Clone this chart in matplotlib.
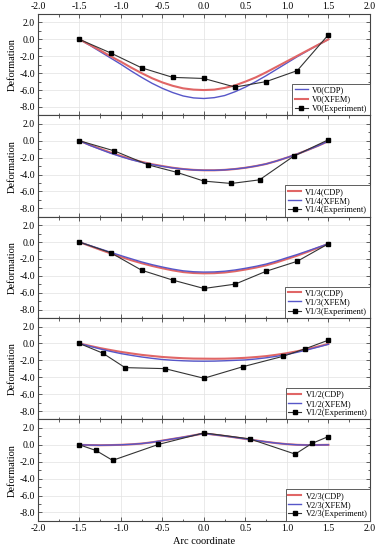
import numpy as np
import matplotlib
matplotlib.use('Agg')
import matplotlib.pyplot as plt
from matplotlib.ticker import AutoMinorLocator, FormatStrFormatter

plt.rcParams['font.family'] = ['Liberation Serif', 'DejaVu Serif']
plt.rcParams['axes.unicode_minus'] = False

# sample positions of the numerical curves (read every 0.125)
x_curve = [-1.5, -1.375, -1.25, -1.125, -1.0, -0.875, -0.75, -0.625, -0.5, -0.375, -0.25, -0.125,
           0.0, 0.125, 0.25, 0.375, 0.5, 0.625, 0.75, 0.875, 1.0, 1.125, 1.25, 1.375, 1.5]

# V0
v0_cdp = [0, -0.7, -1.45, -2.2, -2.95, -3.75, -4.5, -5.2, -5.8, -6.3, -6.7, -6.93,
          -7.0, -6.9, -6.65, -6.2, -5.65, -5.0, -4.3, -3.55, -2.8, -2.05, -1.35, -0.65, 0]
v0_xfem = [0, -0.65, -1.3, -2.0, -2.65, -3.35, -4.0, -4.6, -5.1, -5.5, -5.8, -5.95,
           -6.0, -5.95, -5.75, -5.45, -5.0, -4.5, -3.9, -3.25, -2.6, -1.95, -1.3, -0.65, 0]
v0_exp_x = [-1.5, -1.125, -0.75, -0.375, 0.0, 0.375, 0.75, 1.125, 1.5]
v0_exp = [0, -1.6, -3.37, -4.5, -4.63, -5.65, -5.0, -3.7, 0.55]

# V1/4
v14_cdp = [0, -0.5, -0.95, -1.4, -1.8, -2.18, -2.5, -2.78, -3.0, -3.2, -3.35, -3.45,
           -3.5, -3.5, -3.45, -3.35, -3.2, -3.0, -2.75, -2.4, -2.0, -1.58, -1.1, -0.6, -0.05]
v14_xfem = [0, -0.55, -1.02, -1.48, -1.88, -2.25, -2.56, -2.82, -3.03, -3.22, -3.36, -3.46,
            -3.5, -3.5, -3.45, -3.35, -3.2, -3.0, -2.75, -2.4, -2.0, -1.58, -1.1, -0.6, -0.05]
v14_exp_x = [-1.5, -1.08, -0.67, -0.33, 0.0, 0.33, 0.67, 1.08, 1.5]
v14_exp = [0, -1.2, -2.86, -3.73, -4.78, -5.06, -4.63, -1.84, 0.12]

# V1/3
v13_cdp = [0, -0.45, -0.9, -1.33, -1.75, -2.15, -2.5, -2.82, -3.1, -3.35, -3.55, -3.66,
           -3.7, -3.68, -3.6, -3.45, -3.25, -3.02, -2.75, -2.4, -2.0, -1.6, -1.15, -0.68, -0.2]
v13_xfem = [0, -0.4, -0.8, -1.2, -1.6, -1.98, -2.35, -2.67, -2.95, -3.2, -3.4, -3.51,
            -3.55, -3.53, -3.45, -3.3, -3.1, -2.87, -2.6, -2.25, -1.85, -1.47, -1.05, -0.62, -0.2]
v13_exp_x = [-1.5, -1.125, -0.75, -0.375, 0.0, 0.375, 0.75, 1.125, 1.5]
v13_exp = [0, -1.25, -3.33, -4.5, -5.49, -4.98, -3.45, -2.27, -0.2]

# V1/2
v12_cdp = [0, -0.28, -0.55, -0.78, -1.0, -1.18, -1.35, -1.48, -1.6, -1.68, -1.75, -1.79,
           -1.8, -1.81, -1.8, -1.76, -1.7, -1.61, -1.5, -1.34, -1.15, -0.92, -0.65, -0.36, -0.05]
v12_xfem = [0, -0.33, -0.65, -0.94, -1.2, -1.41, -1.6, -1.76, -1.9, -1.99, -2.05, -2.09,
            -2.1, -2.09, -2.05, -2.0, -1.95, -1.84, -1.7, -1.52, -1.3, -1.04, -0.75, -0.43, -0.1]
v12_exp_x = [-1.5, -1.22, -0.95, -0.47, 0.0, 0.47, 0.95, 1.22, 1.5]
v12_exp = [0, -1.14, -2.86, -2.98, -4.12, -2.75, -1.53, -0.63, 0.39]

# V2/3
v23_cdp = [0, -0.03, -0.05, -0.03, 0.0, 0.06, 0.15, 0.3, 0.5, 0.7, 0.9, 1.12,
           1.35, 1.2, 1.05, 0.88, 0.7, 0.52, 0.35, 0.2, 0.08, 0.0, -0.03, -0.02, 0.0]
v23_xfem = [0, -0.03, -0.05, -0.03, 0.0, 0.06, 0.15, 0.3, 0.5, 0.7, 0.9, 1.12,
            1.35, 1.2, 1.05, 0.88, 0.7, 0.52, 0.35, 0.2, 0.08, 0.0, -0.03, -0.02, 0.0]
v23_exp_x = [-1.5, -1.3, -1.1, -0.55, 0.0, 0.55, 1.1, 1.3, 1.5]
v23_exp = [0, -0.67, -1.84, 0.04, 1.41, 0.71, -1.1, 0.16, 0.98]

names = ['V0', 'V1/4', 'V1/3', 'V1/2', 'V2/3']
cdp_all = [v0_cdp, v14_cdp, v13_cdp, v12_cdp, v23_cdp]
xfem_all = [v0_xfem, v14_xfem, v13_xfem, v12_xfem, v23_xfem]
exp_x_all = [v0_exp_x, v14_exp_x, v13_exp_x, v12_exp_x, v23_exp_x]
exp_all = [v0_exp, v14_exp, v13_exp, v12_exp, v23_exp]

RED = '#e06666'
BLUE = '#5656c8'

fig, axes = plt.subplots(5, 1, figsize=(3.79, 5.5), dpi=100, sharex=True)
fig.subplots_adjust(left=0.1, right=0.976, top=0.9745, bottom=0.053, hspace=0)

for i, ax in enumerate(axes):
    name = names[i]
    if i == 0:
        # top panel: CDP blue, XFEM red
        ax.plot(x_curve, cdp_all[i], color=BLUE, lw=1.0, label=name + '(CDP)')
        ax.plot(x_curve, xfem_all[i], color=RED, lw=1.5, label=name + '(XFEM)')
    else:
        ax.plot(x_curve, cdp_all[i], color=RED, lw=1.5, label=name + '(CDP)')
        ax.plot(x_curve, xfem_all[i], color=BLUE, lw=1.0, label=name + '(XFEM)')
    ax.plot(exp_x_all[i], exp_all[i], color='#333333', lw=0.8, marker='s',
            markersize=2.8, markerfacecolor='black', markeredgecolor='black',
            label=name + '(Experiment)')

    ax.set_xlim(-2, 2)
    ax.set_ylim(-9, 3)
    ax.set_yticks([2, 0, -2, -4, -6, -8])
    ax.yaxis.set_major_formatter(FormatStrFormatter('%.1f'))
    ax.xaxis.set_major_formatter(FormatStrFormatter('%.1f'))
    ax.xaxis.set_minor_locator(AutoMinorLocator(2))
    ax.yaxis.set_minor_locator(AutoMinorLocator(2))
    ax.grid(True, color='#e2e2e2', lw=0.5)
    ax.set_axisbelow(True)
    ax.tick_params(which='both', direction='in', top=True, right=True,
                   labelsize=7, width=0.6, color='#444444', pad=2)
    ax.tick_params(which='major', length=3)
    ax.tick_params(which='minor', length=1.8)
    for sp in ax.spines.values():
        sp.set_color('#444444')
        sp.set_linewidth(0.8)
    ax.set_ylabel('Deformation', fontsize=7.5, labelpad=2)
    if i == 0:
        ax.tick_params(labeltop=True)
    ax.legend(loc='lower right', fontsize=6.0, frameon=True, fancybox=False,
              edgecolor='#444444', framealpha=1, borderpad=0.3,
              handlelength=1.6, handletextpad=0.5, labelspacing=0.15,
              borderaxespad=0.0)
    ax.get_legend().get_frame().set_linewidth(0.6)

axes[-1].set_xlabel('Arc coordinate', fontsize=7.5, labelpad=3)

plt.savefig('out.png', dpi=100)
plt.close()
